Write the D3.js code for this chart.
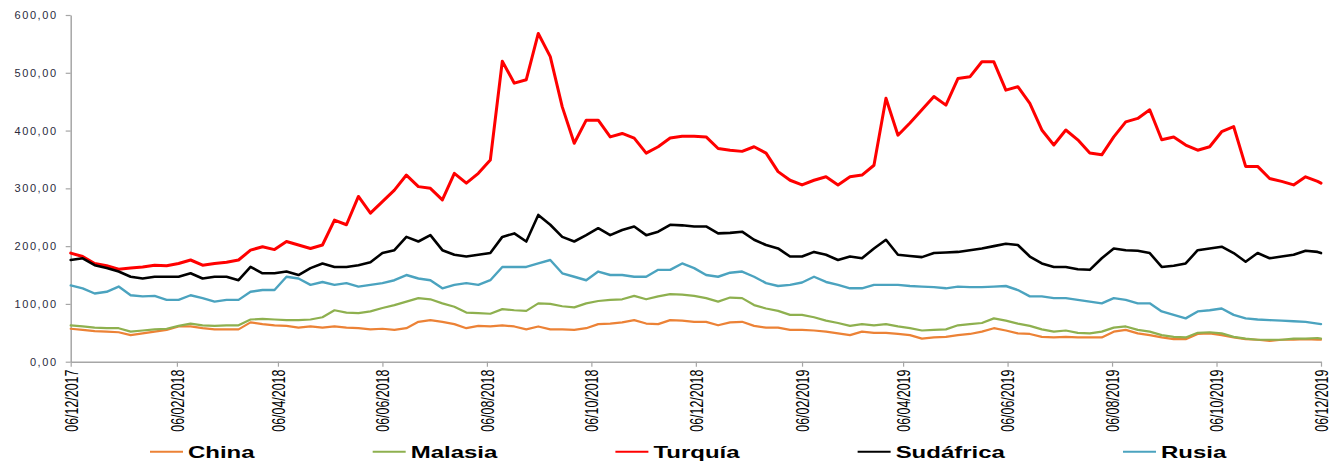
<!DOCTYPE html>
<html>
<head>
<meta charset="utf-8">
<script src="https://cdn.jsdelivr.net/npm/d3@7/dist/d3.min.js"></script>
<style>
  html, body { margin: 0; padding: 0; background: #fff; }
  svg { display: block; }
</style>
</head>
<body>
<svg id="chart" width="1342" height="462"></svg>
<script>
// Weekly observations from 06/12/2017, closing with 06/12/2019
const startDate = "2017-12-06";
const endDate = "2019-12-06";
const weeksCount = 105;

const seriesNames = ["China", "Malasia", "Turquía", "Sudáfrica", "Rusia"];
const seriesColors = ["#EC8236", "#8EB04F", "#FF0000", "#000000", "#4BA3BF"];
const seriesWidths = [2.2, 2.2, 3, 2.6, 2.4];

const china = [
  57, 55, 53, 52, 51, 46, 49, 52, 55, 61,
  61, 58, 56, 56, 56, 68, 65, 63, 62, 59,
  61, 59, 61, 59, 58, 56, 57, 55, 58, 69,
  72, 69, 65, 58, 62, 61, 63, 61, 56, 61,
  56, 56, 55, 58, 65, 66, 68, 72, 66, 65,
  72, 71, 69, 69, 63, 68, 69, 62, 59, 59,
  55, 55, 54, 52, 49, 46, 52, 50, 50, 48,
  46, 40, 42, 43, 46, 48, 52, 58, 54, 49,
  48, 43, 42, 43, 42, 42, 42, 52, 55, 49,
  46, 42, 39, 39, 48, 49, 46, 42, 39, 38,
  36, 38, 38, 39, 38, 38
];
const malasia = [
  63, 61, 59, 58, 58, 52, 54, 56, 57, 62,
  66, 63, 62, 63, 63, 73, 74, 73, 72, 72,
  73, 77, 89, 85, 84, 87, 93, 98, 104, 110,
  108, 101, 95, 85, 84, 83, 91, 89, 88, 101,
  100, 96, 94, 101, 105, 107, 108, 114, 108, 113,
  117, 116, 114, 110, 104, 111, 110, 98, 92, 88,
  81, 81, 77, 71, 67, 62, 65, 63, 65, 61,
  58, 54, 55, 56, 63, 65, 67, 75, 71, 66,
  62, 56, 52, 54, 50, 49, 52, 59, 61, 55,
  52, 46, 43, 42, 50, 51, 49, 43, 40, 38,
  38, 38, 40, 40, 41, 40
];
const turquia = [
  188, 182, 170, 166, 160, 162, 164, 167, 166, 170,
  176, 167, 170, 172, 176, 193, 199, 194, 208, 202,
  196, 202, 245, 237, 286, 257, 277, 297, 323, 303,
  300, 280, 326, 309, 326, 349, 520, 482, 488, 568,
  528, 441, 378, 418, 418, 389, 395, 387, 361, 372,
  387, 390, 390, 389, 369, 366, 364, 372, 361, 329,
  314, 306, 314, 320, 306, 320, 323, 340, 456, 392,
  413, 436, 459, 444, 490, 493, 519, 519, 470, 476,
  447, 401, 375, 401, 384, 361, 358, 389, 415, 421,
  436, 384, 389, 375, 366, 372, 398, 407, 338, 338,
  317, 312, 306, 320, 312, 309
];
const sudafrica = [
  176, 179, 167, 162, 156, 147, 144, 147, 147, 147,
  153, 144, 147, 147, 141, 164, 153, 153, 156, 150,
  162, 170, 164, 164, 167, 172, 188, 193, 216, 208,
  219, 193, 185, 182, 185, 188, 216, 222, 208, 254,
  237, 216, 208, 219, 231, 219, 228, 234, 219, 225,
  237, 236, 234, 234, 222, 223, 225, 211, 202, 196,
  182, 182, 190, 185, 176, 182, 179, 196, 211, 185,
  183, 181, 188, 189, 190, 193, 196, 200, 204, 202,
  182, 170, 164, 164, 160, 159, 179, 196, 193, 192,
  188, 164, 166, 170, 193, 196, 199, 188, 173, 188,
  179, 182, 185, 192, 190, 188
];
const rusia = [
  132, 127, 118, 121, 130, 115, 113, 114, 107, 107,
  115, 110, 104, 107, 107, 121, 124, 124, 147, 144,
  133, 138, 133, 136, 130, 133, 136, 141, 150, 144,
  141, 127, 133, 136, 133, 141, 164, 164, 164, 170,
  176, 153, 147, 141, 156, 150, 150, 147, 147, 159,
  159, 170, 162, 150, 147, 154, 156, 147, 136, 131,
  133, 137, 147, 138, 133, 127, 127, 133, 133, 133,
  131, 130, 129, 127, 130, 129, 129, 130, 131, 124,
  113, 113, 110, 110, 107, 104, 101, 110, 107, 101,
  101, 87, 81, 75, 87, 89, 92, 81, 75, 73,
  72, 71, 70, 69, 66, 65
];

const tickLabels = [
  "06/12/2017", "06/02/2018", "06/04/2018", "06/06/2018", "06/08/2018",
  "06/10/2018", "06/12/2018", "06/02/2019", "06/04/2019", "06/06/2019",
  "06/08/2019", "06/10/2019", "06/12/2019"
];
const yTicks = [0, 100, 200, 300, 400, 500, 600];

const seriesValues = [china, malasia, turquia, sudafrica, rusia];

(function draw() {
  // ---- dates ----
  const parseIso = d3.timeParse("%Y-%m-%d");
  const parseDmy = d3.timeParse("%d/%m/%Y");
  const t0 = parseIso(startDate);
  const dates = d3.range(weeksCount).map(i => d3.timeDay.offset(t0, 7 * i));
  dates.push(parseIso(endDate));

  // ---- layout ----
  const svg = d3.select("#chart");
  const mLeft = 70.7, mRight = 1321, mTop = 15, mBottom = 361.7;

  const x = d3.scaleTime().domain([t0, parseIso(endDate)]).range([mLeft, mRight]);
  const y = d3.scaleLinear().domain([0, 600]).range([mBottom, mTop]);

  const esFormat = d3.formatLocale({ decimal: ",", thousands: ".", grouping: [3], currency: ["", ""] }).format(".2f");

  // y axis
  const yAxis = svg.append("g").attr("transform", `translate(${mLeft},0)`)
    .call(d3.axisLeft(y).tickValues(yTicks).tickSize(5).tickSizeOuter(0).tickFormat(esFormat));
  yAxis.select(".domain").attr("stroke", "#A6A6A6").attr("stroke-width", 1.5);
  yAxis.selectAll(".tick line").attr("stroke", "#A6A6A6").attr("stroke-width", 1.2);
  yAxis.selectAll(".tick text")
    .attr("x", -13)
    .attr("fill", "#2b2b3d")
    .style("font-family", "'Liberation Sans', Arial, sans-serif")
    .style("font-size", "11px")
    .style("letter-spacing", "1.6px");

  // x axis with vertical date labels
  const xAxis = svg.append("g").attr("transform", `translate(0,${mBottom})`)
    .call(d3.axisBottom(x).tickValues(tickLabels.map(parseDmy)).tickSize(5).tickSizeOuter(0)
      .tickFormat((d, i) => tickLabels[i]));
  xAxis.select(".domain").attr("stroke", "#A6A6A6").attr("stroke-width", 1.5);
  xAxis.selectAll(".tick line").attr("stroke", "#A6A6A6").attr("stroke-width", 1.2);
  xAxis.selectAll(".tick text")
    .attr("transform", "rotate(-90)")
    .attr("x", -8)
    .attr("y", 0)
    .attr("dy", "0.36em")
    .attr("text-anchor", "end")
    .attr("fill", "#000")
    .attr("textLength", 62)
    .attr("lengthAdjust", "spacingAndGlyphs")
    .style("font-family", "'Liberation Sans Narrow', 'Arial Narrow', 'Liberation Sans', sans-serif")
    .style("font-size", "17.5px");

  // series lines
  const line = d3.line()
    .x((d, i) => x(dates[i]))
    .y(d => y(d));

  svg.append("g").selectAll("path")
    .data(seriesValues)
    .join("path")
    .attr("d", line)
    .attr("fill", "none")
    .attr("stroke", (d, i) => seriesColors[i])
    .attr("stroke-width", (d, i) => seriesWidths[i])
    .attr("stroke-linejoin", "round")
    .attr("stroke-linecap", "round");

  // legend
  const legend = svg.append("g");
  let lx = 150;
  const ly = 451.7;
  seriesNames.forEach((name, i) => {
    legend.append("line")
      .attr("x1", lx).attr("x2", lx + 33)
      .attr("y1", ly).attr("y2", ly)
      .attr("stroke", seriesColors[i])
      .attr("stroke-width", 2);
    const tx = lx + 38;
    const t = legend.append("text")
      .attr("x", 0).attr("y", 0)
      .attr("fill", "#000")
      .style("font-family", "'Liberation Sans', Arial, sans-serif")
      .style("font-weight", "bold")
      .style("font-size", "16px")
      .text(name);
    const w = t.node().getComputedTextLength();
    const sx = 1.5;
    t.attr("transform", `translate(${tx},${ly + 5.8}) scale(${sx},1)`);
    lx = tx + w * sx + 118;
  });
})();
</script>
</body>
</html>
